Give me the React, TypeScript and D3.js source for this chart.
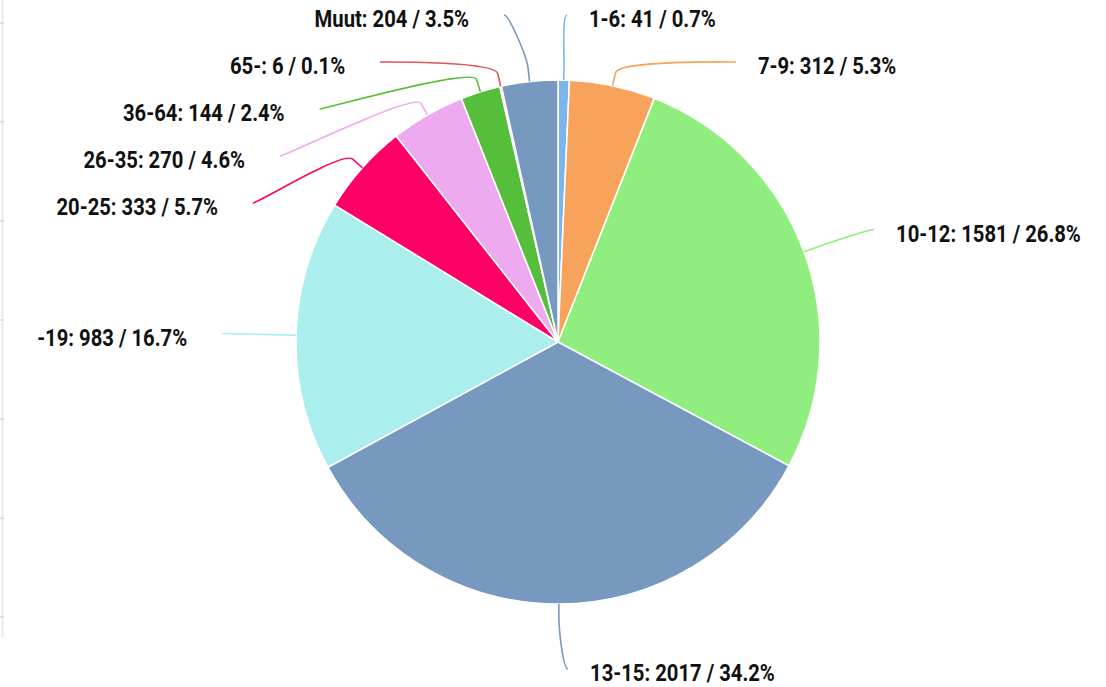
import React, { useEffect, useRef } from 'react';
import * as d3 from 'd3';

const categories = ['1-6', '7-9', '10-12', '13-15', '-19', '20-25', '26-35', '36-64', '65-', 'Muut'];
const counts = [41, 312, 1581, 2017, 983, 333, 270, 144, 6, 204];
const colors = ['#7cb5ec', '#f7a35c', '#90ee7e', '#7798BF', '#aaeeee', '#ff0066', '#eeaaee', '#55BF3B', '#DF5353', '#7798BF'];

const W = 1106;
const H = 687;

interface Lbl {
  i: number;
  mid: number;
  left: boolean;
  target: number;
  y: number;
  x: number;
}

// Highcharts-like label distribution: overlapping labels are merged into clusters
// centred on the mean of their natural positions, kept inside [minY, maxY]
function distribute(items: Lbl[], minY: number, maxY: number, size: number) {
  const sorted = [...items].sort((a, b) => a.target - b.target);
  let clusters = sorted.map(it => ({ items: [it], top: it.target }));
  const place = (c: { items: Lbl[]; top: number }) => {
    const n = c.items.length;
    const mean = d3.mean(c.items, d => d.target) as number;
    let top = mean - ((n - 1) * size) / 2;
    top = Math.max(minY, Math.min(top, maxY - (n - 1) * size));
    c.top = top;
  };
  clusters.forEach(place);
  let merged = true;
  while (merged) {
    merged = false;
    for (let k = 0; k < clusters.length - 1; k++) {
      const a = clusters[k];
      const b = clusters[k + 1];
      if (a.top + a.items.length * size > b.top) {
        const c = { items: [...a.items, ...b.items], top: 0 };
        place(c);
        clusters = [...clusters.slice(0, k), c, ...clusters.slice(k + 2)];
        merged = true;
        break;
      }
    }
  }
  clusters.forEach(c => c.items.forEach((it, j) => { it.y = c.top + j * size; }));
}

const App: React.FC = () => {
  const svgRef = useRef<SVGSVGElement>(null);

  useEffect(() => {
    document.body.style.margin = '0';
    if (!svgRef.current) return;
    const svg = d3.select(svgRef.current);
    svg.selectAll('*').remove();

    const cx = 558;
    const cy = 342;
    const r = 262;
    const labelDistance = 65;
    const R = r + labelDistance;
    const connectorOffset = labelDistance / 5;
    const padding = 9;
    const spacing = 47;
    const total = d3.sum(counts);

    // faint frame line on the left edge
    svg.append('line')
      .attr('x1', 2.5).attr('x2', 2.5).attr('y1', 0).attr('y2', 638)
      .attr('stroke', '#e6e9ee').attr('stroke-width', 2);
    svg.selectAll('line.tick')
      .data(d3.range(23, 620, 99))
      .join('line')
      .attr('class', 'tick')
      .attr('x1', 0).attr('x2', 4)
      .attr('y1', d => d).attr('y2', d => d)
      .attr('stroke', '#dde1e6').attr('stroke-width', 2);

    const pie = d3.pie<number>().sort(null).value(d => d);
    const arcs = pie(counts);
    const arc = d3.arc<d3.PieArcDatum<number>>().innerRadius(0).outerRadius(r);

    const g = svg.append('g').attr('transform', `translate(${cx},${cy})`);
    g.selectAll('path')
      .data(arcs)
      .join('path')
      .attr('d', arc)
      .attr('fill', (_, i) => colors[i])
      .attr('stroke', '#ffffff')
      .attr('stroke-width', 1.5)
      .attr('stroke-linejoin', 'round');

    const labels: Lbl[] = arcs.map((a, i) => {
      const mid = (a.startAngle + a.endAngle) / 2;
      return { i, mid, left: mid > Math.PI, target: cy - Math.cos(mid) * R, y: 0, x: 0 };
    });
    const minY = 15;
    const maxY = 669;
    distribute(labels.filter(l => !l.left), minY, maxY, spacing);
    distribute(labels.filter(l => l.left), minY, maxY, spacing);

    labels.forEach(l => {
      const dy = Math.max(-1, Math.min(1, (l.y - cy) / R));
      const ang = Math.asin(dy);
      l.x = cx + (l.left ? -1 : 1) * (Math.cos(ang) * R + padding);
    });

    const gapRight = 22;
    const gapLeft = 35;
    // keep a gutter between left and right labels on the same row
    labels.filter(l => l.left).forEach(l => {
      labels.filter(o => !o.left && Math.abs(o.y - l.y) < spacing).forEach(o => {
        const need = 120;
        const leftEnd = l.x - gapLeft;
        const rightStart = o.x + gapRight;
        if (rightStart - leftEnd < need) l.x -= need - (rightStart - leftEnd);
      });
    });

    labels.forEach(l => {
      const s = Math.sin(l.mid);
      const c = Math.cos(l.mid);
      const tx = cx + s * r;
      const ty = cy - c * r;
      const bx = cx + s * (r + connectorOffset);
      const by = cy - c * (r + connectorOffset);
      const c2x = 2 * bx - tx;
      const c2y = 2 * by - ty;
      const half = l.left ? -1 : 1;
      const p = d3.path();
      p.moveTo(l.x, l.y);
      p.bezierCurveTo(l.x - half * 5, l.y, c2x, c2y, bx, by);
      p.lineTo(tx, ty);
      svg.append('path')
        .attr('d', p.toString())
        .attr('fill', 'none')
        .attr('stroke', colors[l.i])
        .attr('stroke-width', 1.6);

      const v = counts[l.i];
      const pct = ((v / total) * 100).toFixed(1);
      const lx = l.left ? l.x - gapLeft : l.x + gapRight;
      // narrow, tall lettering like the original's condensed face
      svg.append('text')
        .attr('transform', `translate(${lx},${l.y + 12}) scale(0.88,1)`)
        .attr('text-anchor', l.left ? 'end' : 'start')
        .attr('font-family', 'Roboto, sans-serif')
        .attr('font-weight', 'bold')
        .attr('font-size', 23)
        .attr('fill', '#111111')
        .text(`${categories[l.i]}: ${v} / ${pct}%`);
    });
  }, []);

  return <svg ref={svgRef} width={W} height={H} style={{ display: 'block', background: '#ffffff' }} />;
};

export default App;
